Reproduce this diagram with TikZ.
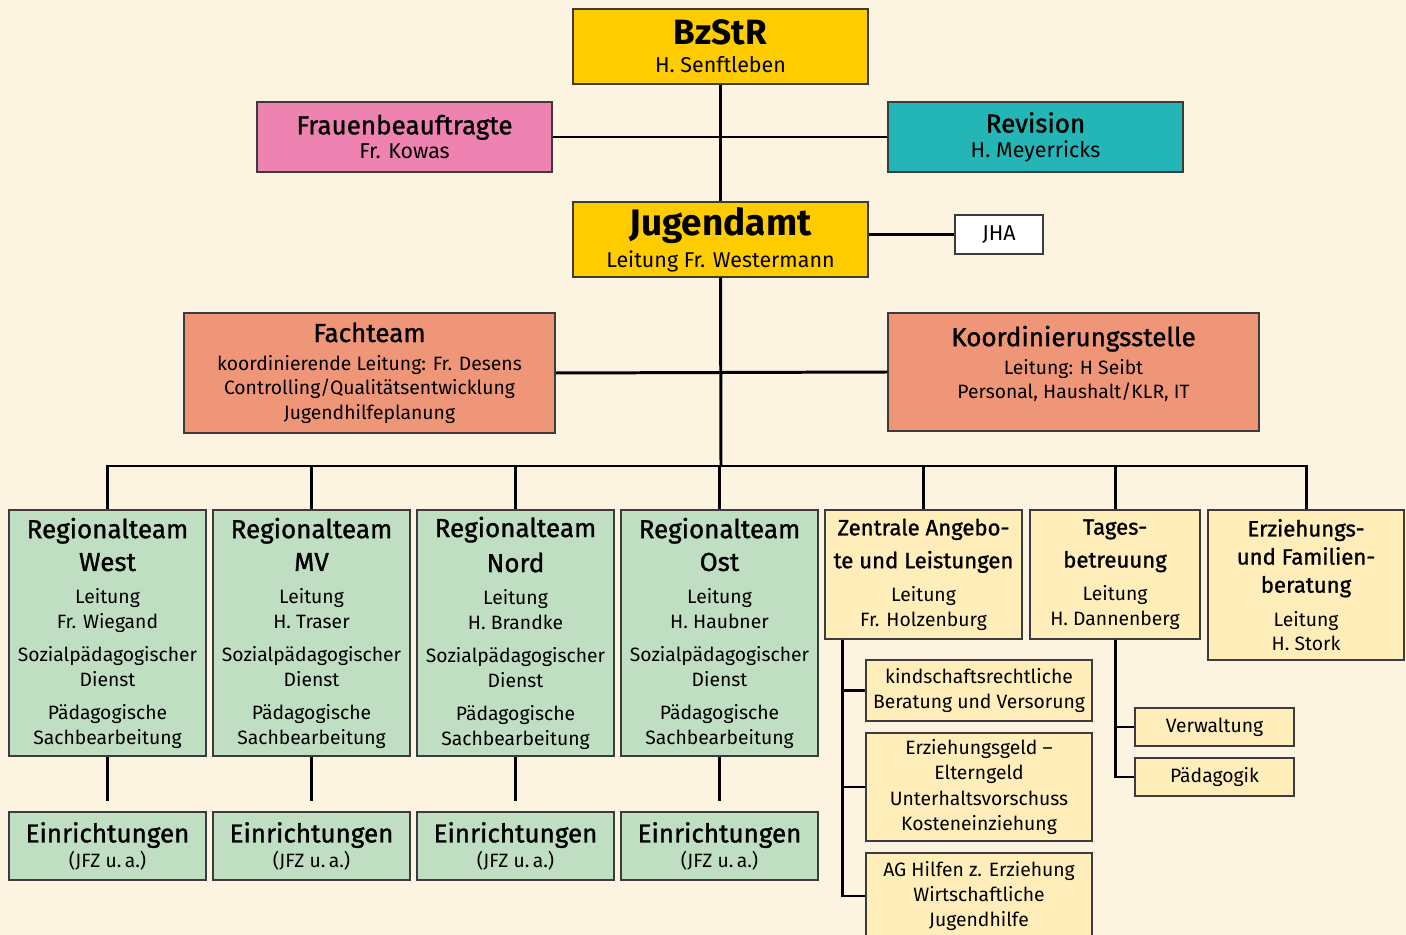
\documentclass[tikz,border=0pt]{standalone}
\usepackage{fontspec}
\setmainfont{Fira Sans}
\newfontfamily\halbfett[FakeBold=1.2]{Fira Sans}
\usetikzlibrary{positioning}

\definecolor{hinter}{RGB}{252,243,224}
\definecolor{gelb}{RGB}{255,204,0}
\definecolor{rosa}{RGB}{238,130,176}
\definecolor{tuerkis}{RGB}{36,182,182}
\definecolor{lachs}{RGB}{240,150,120}
\definecolor{gruen}{RGB}{191,222,194}
\definecolor{hellgelb}{RGB}{255,238,186}
\definecolor{rand}{RGB}{60,60,60}

\newcommand\titel{\halbfett\fontsize{14.8}{18.7}\selectfont}
\newcommand\titelk{\halbfett\fontsize{12.6}{16}\selectfont}
\newcommand\gross{\bfseries\fontsize{20}{24}\selectfont}
\newcommand\mittel{\fontsize{12.2}{14}\selectfont}

\tikzset{
  box/.style={draw=rand, line width=0.8pt, align=center, inner sep=0pt,
    font=\fontsize{11}{14}\selectfont},
  gelbbox/.style={box, fill=gelb, minimum width=5.9cm, minimum height=1.5cm},
  seitbox/.style={box, minimum width=5.9cm, minimum height=1.4cm},
  lachsbox/.style={box, fill=lachs, minimum width=7.42cm},
  gruenbox/.style={box, fill=gruen, minimum width=3.94cm},
  hellbox/.style={box, fill=hellgelb},
  linie/.style={line width=1.7pt}
}

\begin{document}
\begin{tikzpicture}[x=0.02cm, y=-0.02cm]
\fill[hinter] (0,0) rectangle (1406,935);
\useasboundingbox (0,0) rectangle (1406,935);

% Leitungsebene
\node (bzstr)     [gelbbox] at (720.5,46.5)  {\gross BzStR\\[2pt]\mittel H. Senftleben};
\node (frauen)    [seitbox, fill=rosa] at (404.5,137) {\titel Frauenbeauftragte\\\mittel Fr. Kowas};
\node (revision)  [seitbox, fill=tuerkis] at (1035.5,137) {\titel Revision\\\mittel H. Meyerricks};
\node (jugendamt) [gelbbox] at (720.5,239.5) {\gross\fontsize{21}{24}\selectfont Jugendamt\\[3pt]\mittel Leitung Fr. Westermann};
\node (jha)       [box, fill=white, minimum width=1.76cm, minimum height=0.78cm] at (999,234.5) {\mittel JHA};

% Stabsstellen
\node (fachteam)  [lachsbox, minimum height=2.4cm] at (369.5,373)
  {\titel Fachteam\\[2pt]koordinierende Leitung: Fr. Desens\\Controlling/Qualitätsentwicklung\\Jugendhilfeplanung};
\node (koord)     [lachsbox, minimum height=2.36cm] at (1073.5,372)
  {\titel Koordinierungsstelle\\[2pt]Leitung: H Seibt\\Personal, Haushalt/KLR, IT\\[-3pt]};

% Regionalteams
\node (west) [gruenbox, minimum height=4.92cm] at (107.5,633)
  {\titel Regionalteam\\[4.7pt]\titel West\\[4.5pt]Leitung\\Fr. Wiegand\\[5pt]Sozialpädagogischer\\Dienst\\[5pt]Pädagogische\\Sachbearbeitung};
\node (mv)   [gruenbox, minimum height=4.92cm] at (311.5,633)
  {\titel Regionalteam\\[4.7pt]\titel MV\\[4.5pt]Leitung\\H. Traser\\[5pt]Sozialpädagogischer\\Dienst\\[5pt]Pädagogische\\Sachbearbeitung};
\node (nord) [gruenbox, minimum height=4.92cm] at (515.5,633)
  {\titel Regionalteam\\[4.7pt]\titel Nord\\[4.5pt]Leitung\\H. Brandke\\[5pt]Sozialpädagogischer\\Dienst\\[5pt]Pädagogische\\Sachbearbeitung};
\node (ost)  [gruenbox, minimum height=4.92cm] at (719.5,633)
  {\titel Regionalteam\\[4.7pt]\titel Ost\\[4.5pt]Leitung\\H. Haubner\\[5pt]Sozialpädagogischer\\Dienst\\[5pt]Pädagogische\\Sachbearbeitung};

% Zentrale Bereiche
\node (zentral) [hellbox, minimum width=3.94cm, minimum height=2.58cm] at (923.5,574.5)
  {\titelk Zentrale Angebo-\\[4.7pt]\titelk te und Leistungen\\[5pt]Leitung\\Fr. Holzenburg};
\node (tages)   [hellbox, minimum width=3.4cm, minimum height=2.58cm] at (1115,574.5)
  {\titelk Tages-\\[4.7pt]\titelk betreuung\\[5pt]Leitung\\H. Dannenberg};
\node (efb)     [hellbox, minimum width=3.92cm, minimum height=3cm] at (1306,585)
  {\titelk Erziehungs-\\[2pt]\titelk und Familien-\\[2pt]\titelk beratung\\[5pt]Leitung\\H. Stork};

% Einrichtungen
\foreach \r/\x in {west/107.5, mv/311.5, nord/515.5, ost/719.5}
  \node (einr-\r) [gruenbox, minimum height=1.36cm] at (\x,846) {\titel Einrichtungen\\(JFZ u.\,a.)};

% Untereinheiten
\node (kinder)   [hellbox, minimum width=4.52cm, minimum height=1.22cm] at (979,690.5)
  {kindschaftsrechtliche\\Beratung und Versorung};
\node (erzgeld)  [hellbox, minimum width=4.52cm, minimum height=2.16cm] at (979,787)
  {Erziehungsgeld –\\[0.5pt]Elterngeld\\[0.5pt]Unterhaltsvorschuss\\[0.5pt]Kosteneinziehung};
\node (aghilfen) [hellbox, minimum width=4.52cm, minimum height=1.72cm] at (979,896)
  {AG Hilfen z. Erziehung\\[0.5pt]Wirtschaftliche\\[0.5pt]Jugendhilfe};
\node (verwaltung) [hellbox, minimum width=3.18cm, minimum height=0.76cm] at (1214.5,727) {Verwaltung};
\node (paedagogik) [hellbox, minimum width=3.18cm, minimum height=0.76cm] at (1214.5,777) {Pädagogik};

% Verbindungen
\coordinate (bus) at (721,466);
\draw[linie] (bzstr.south) -- (jugendamt.north);
\draw[linie] (frauen.east) -- (revision.west);
\draw[linie] (jha.west -| jugendamt.east) -- (jha.west);
\draw[linie] (fachteam.east) -- (koord.west);
\draw[linie] (jugendamt.south) -- (bus);
\foreach \n in {west, mv, nord, ost, zentral, tages, efb}
  \draw[linie] (bus) -| (\n.north);
\foreach \r in {west, mv, nord, ost}
  \draw[linie] (\r.south) -- ++(0,44);
\foreach \n in {kinder, erzgeld, aghilfen}
  \draw[linie] ([xshift=0.36cm]zentral.south west) |- (\n.west);
\draw[linie] (tages.south) |- (verwaltung.west);
\draw[linie] (tages.south) |- (paedagogik.west);

\end{tikzpicture}
\end{document}
